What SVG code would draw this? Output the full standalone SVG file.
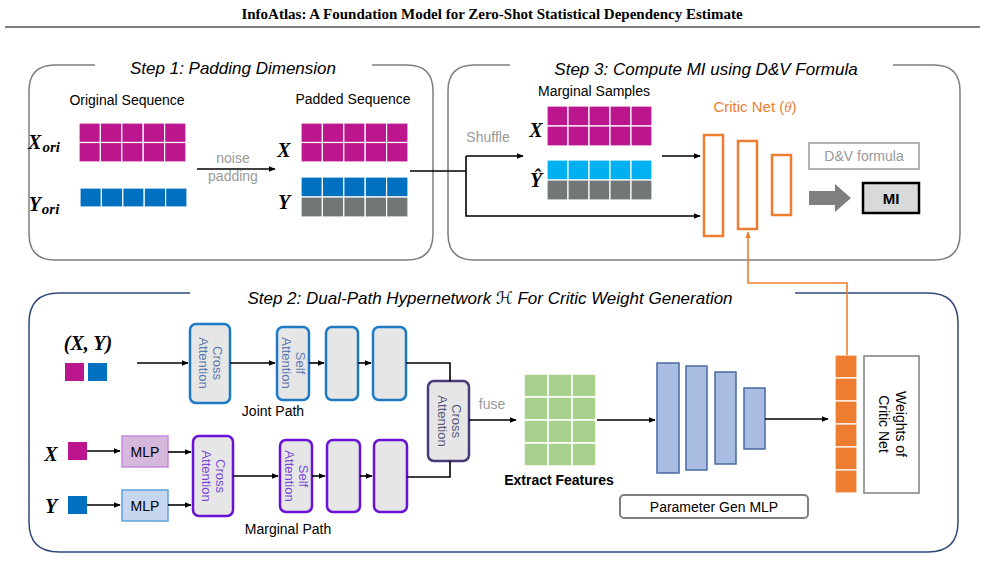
<svg xmlns="http://www.w3.org/2000/svg" width="985" height="586" viewBox="0 0 985 586">
<defs>
<marker id="ah" viewBox="0 0 10 10" refX="9" refY="5" markerWidth="7" markerHeight="7" orient="auto-start-reverse" markerUnits="userSpaceOnUse"><path d="M0,1 L10,5 L0,9 z" fill="#000"/></marker>
<marker id="ao" viewBox="0 0 10 10" refX="9" refY="5" markerWidth="7" markerHeight="7" orient="auto" markerUnits="userSpaceOnUse"><path d="M0,1 L10,5 L0,9 z" fill="#ed7d31"/></marker>
</defs>
<style>
text{font-family:"Liberation Sans",Arial,sans-serif;}
.frame{fill:none;stroke:#7f7f7f;stroke-width:1.5;}
.step{font-style:italic;font-size:17px;text-anchor:middle;fill:#000;}
.lbl{font-size:14px;text-anchor:middle;fill:#000;}
.gray{font-size:14px;text-anchor:middle;fill:#999;}
.math{font-family:"Liberation Serif","Times New Roman",serif;font-style:italic;font-weight:bold;font-size:20px;text-anchor:middle;}
.ln{fill:none;stroke:#000;stroke-width:1.6;}
.m{fill:#bb168e;stroke:#fff;stroke-width:1.2;}
.b{fill:#0070c0;stroke:#fff;stroke-width:1.2;}
.c{fill:#00b0f0;stroke:#fff;stroke-width:1.2;}
.g{fill:#717677;stroke:#fff;stroke-width:1.2;}
.gr{fill:#a9d18e;stroke:#fff;stroke-width:1.5;}
.jb{fill:#e6e6e6;stroke:#1f7ac6;stroke-width:2.5;}
.pb{fill:#e6e6e6;stroke:#6a12d6;stroke-width:2.5;}
.att{font-size:13px;text-anchor:middle;}
.crit{fill:#fff;stroke:#ed7d31;stroke-width:2.5;}
.pg{fill:#a9bde3;stroke:#4a6aa0;stroke-width:1.5;}
.o{fill:#ed7d31;stroke:#fff;stroke-width:1.2;}
.title{font-family:"Liberation Serif","Times New Roman",serif;font-weight:bold;font-size:15px;text-anchor:middle;}
</style>
<text class="title" x="492" y="19">InfoAtlas: A Foundation Model for Zero-Shot Statistical Dependency Estimate</text>
<line x1="5" y1="27" x2="980" y2="27" stroke="#000" stroke-width="1.2"/>

<g id="step1">
<path class="frame" d="M95,65 H55 Q29,65 29,91 V234 Q29,260 55,260 H407 Q433,260 433,234 V91 Q433,65 407,65 H372"/>
<text class="step" x="233" y="74">Step 1: Padding Dimension</text>
<text class="lbl" x="127" y="105">Original Sequence</text>
<text class="lbl" x="353" y="104">Padded Sequence</text>
<text class="math" x="44" y="149">X<tspan font-size="15" dx="1" dy="3">ori</tspan></text>
<text class="math" x="44" y="211">Y<tspan font-size="15" dx="1" dy="3">ori</tspan></text>
<g id="xori">
<rect class="m" x="79" y="123" width="21.4" height="19.5"/><rect class="m" x="100.4" y="123" width="21.4" height="19.5"/><rect class="m" x="121.8" y="123" width="21.4" height="19.5"/><rect class="m" x="143.2" y="123" width="21.4" height="19.5"/><rect class="m" x="164.6" y="123" width="21.4" height="19.5"/>
<rect class="m" x="79" y="142.5" width="21.4" height="19.5"/><rect class="m" x="100.4" y="142.5" width="21.4" height="19.5"/><rect class="m" x="121.8" y="142.5" width="21.4" height="19.5"/><rect class="m" x="143.2" y="142.5" width="21.4" height="19.5"/><rect class="m" x="164.6" y="142.5" width="21.4" height="19.5"/>
</g>
<g id="yori">
<rect class="b" x="80" y="188" width="21.4" height="19"/><rect class="b" x="101.4" y="188" width="21.4" height="19"/><rect class="b" x="122.8" y="188" width="21.4" height="19"/><rect class="b" x="144.2" y="188" width="21.4" height="19"/><rect class="b" x="165.6" y="188" width="21.4" height="19"/>
</g>
<text class="gray" x="233" y="163">noise</text>
<text class="gray" x="233" y="181">padding</text>
<text class="math" x="284" y="157">X</text>
<text class="math" x="284" y="209">Y</text>
<g id="xpad">
<rect class="m" x="301" y="123" width="21.4" height="19.5"/><rect class="m" x="322.4" y="123" width="21.4" height="19.5"/><rect class="m" x="343.8" y="123" width="21.4" height="19.5"/><rect class="m" x="365.2" y="123" width="21.4" height="19.5"/><rect class="m" x="386.6" y="123" width="21.4" height="19.5"/>
<rect class="m" x="301" y="142.5" width="21.4" height="19.5"/><rect class="m" x="322.4" y="142.5" width="21.4" height="19.5"/><rect class="m" x="343.8" y="142.5" width="21.4" height="19.5"/><rect class="m" x="365.2" y="142.5" width="21.4" height="19.5"/><rect class="m" x="386.6" y="142.5" width="21.4" height="19.5"/>
</g>
<g id="ypad">
<rect class="b" x="301" y="177" width="21.4" height="20"/><rect class="b" x="322.4" y="177" width="21.4" height="20"/><rect class="b" x="343.8" y="177" width="21.4" height="20"/><rect class="b" x="365.2" y="177" width="21.4" height="20"/><rect class="b" x="386.6" y="177" width="21.4" height="20"/>
<rect class="g" x="301" y="197" width="21.4" height="20"/><rect class="g" x="322.4" y="197" width="21.4" height="20"/><rect class="g" x="343.8" y="197" width="21.4" height="20"/><rect class="g" x="365.2" y="197" width="21.4" height="20"/><rect class="g" x="386.6" y="197" width="21.4" height="20"/>
</g>
</g>

<g id="step3">
<path class="frame" d="M510,65 H474 Q448,65 448,91 V234 Q448,260 474,260 H934 Q960,260 960,234 V91 Q960,65 934,65 H893"/>
<text class="step" x="706" y="75">Step 3: Compute MI using D&amp;V Formula</text>
<text class="lbl" x="594" y="96">Marginal Samples</text>
<text class="gray" x="488" y="142">Shuffle</text>
<text class="math" x="536" y="137">X</text>
<text class="math" x="536" y="187">Ŷ</text>
<g id="xmarg">
<rect class="m" x="547" y="106" width="21" height="20"/><rect class="m" x="568" y="106" width="21" height="20"/><rect class="m" x="589" y="106" width="21" height="20"/><rect class="m" x="610" y="106" width="21" height="20"/><rect class="m" x="631" y="106" width="21" height="20"/>
<rect class="m" x="547" y="126" width="21" height="20"/><rect class="m" x="568" y="126" width="21" height="20"/><rect class="m" x="589" y="126" width="21" height="20"/><rect class="m" x="610" y="126" width="21" height="20"/><rect class="m" x="631" y="126" width="21" height="20"/>
</g>
<g id="yhat">
<rect class="c" x="547" y="160" width="21" height="20"/><rect class="c" x="568" y="160" width="21" height="20"/><rect class="c" x="589" y="160" width="21" height="20"/><rect class="c" x="610" y="160" width="21" height="20"/><rect class="c" x="631" y="160" width="21" height="20"/>
<rect class="g" x="547" y="180" width="21" height="20"/><rect class="g" x="568" y="180" width="21" height="20"/><rect class="g" x="589" y="180" width="21" height="20"/><rect class="g" x="610" y="180" width="21" height="20"/><rect class="g" x="631" y="180" width="21" height="20"/>
</g>
<g id="critic">
<text x="755" y="112" font-size="15" fill="#ed7d31" text-anchor="middle">Critic Net (<tspan style="font-family:'Liberation Serif',serif;font-style:italic">θ</tspan>)</text>
<rect class="crit" x="704" y="135" width="19" height="101"/>
<rect class="crit" x="738" y="141" width="19" height="88"/>
<rect class="crit" x="772" y="155" width="19" height="60"/>
</g>
<g id="dv">
<rect x="809" y="143" width="110" height="26" fill="#fff" stroke="#999" stroke-width="1.5"/>
<text class="gray" x="864" y="161">D&amp;V formula</text>
<path d="M809,191 H835 V184 L851,198 L835,212 V205 H809 Z" fill="#7f7f7f"/>
</g>
<g id="mi">
<rect x="863" y="183" width="56" height="30" fill="#d9d9d9" stroke="#000" stroke-width="2.5"/>
<text x="891" y="204" font-size="15" font-weight="bold" text-anchor="middle">MI</text>
</g>
</g>

<g id="step2">
<path d="M190,293 H59 Q29,293 29,323 V522 Q29,552 59,552 H928 Q958,552 958,522 V323 Q958,293 928,293 H795" fill="none" stroke="#2f4a7a" stroke-width="1.5"/>
<text class="step" x="490" y="304">Step 2: Dual-Path Hypernetwork <tspan style="font-family:'DejaVu Sans',sans-serif;font-style:normal">ℋ</tspan> For Critic Weight Generation</text>
<text class="math" x="88" y="350">(X, Y)</text>
<rect x="65" y="363" width="19" height="18" fill="#bb168e"/>
<rect x="88" y="363" width="19" height="18" fill="#0070c0"/>
<g id="joint-cross"><rect class="jb" x="190" y="324" width="40" height="79" rx="6"/><text class="att" fill="#5a7ab0" transform="translate(210,363) rotate(90)"><tspan x="0" y="-3">Cross</tspan><tspan x="0" y="11">Attention</tspan></text></g>
<g id="joint-self"><rect class="jb" x="277" y="327" width="32" height="73" rx="6"/><text class="att" fill="#5a7ab0" transform="translate(293,363) rotate(90)"><tspan x="0" y="-3">Self</tspan><tspan x="0" y="11">Attention</tspan></text></g>
<g id="joint-b3"><rect class="jb" x="326" y="327" width="32" height="73" rx="6"/></g>
<g id="joint-b4"><rect class="jb" x="373" y="327" width="33" height="73" rx="6"/></g>
<text class="lbl" x="273" y="416">Joint Path</text>
<g id="fuse-cross"><rect x="428" y="381" width="41" height="80" rx="6" fill="#e6e6e6" stroke="#4b3a7a" stroke-width="2.5"/><text class="att" fill="#5a5a80" transform="translate(448.5,421) rotate(90)"><tspan x="0" y="-3">Cross</tspan><tspan x="0" y="11">Attention</tspan></text></g>
<text class="math" x="51" y="461">X</text>
<rect x="68" y="442" width="19" height="18" fill="#bb168e"/>
<text class="math" x="51" y="513">Y</text>
<rect x="68" y="496" width="19" height="18" fill="#0070c0"/>
<g id="mlp-x"><rect x="122" y="436" width="46" height="31" fill="#d5b8dc" stroke="#c58be0" stroke-width="1.5"/><text class="lbl" x="145" y="457">MLP</text></g>
<g id="mlp-y"><rect x="122" y="490" width="46" height="31" fill="#c6d6ee" stroke="#5fa3dd" stroke-width="1.5"/><text class="lbl" x="145" y="511">MLP</text></g>
<g id="marg-cross"><rect class="pb" x="193" y="436" width="40" height="80" rx="6"/><text class="att" fill="#7a4ad6" transform="translate(213,476) rotate(90)"><tspan x="0" y="-3">Cross</tspan><tspan x="0" y="11">Attention</tspan></text></g>
<g id="marg-self"><rect class="pb" x="280" y="440" width="32" height="72" rx="6"/><text class="att" fill="#7a4ad6" transform="translate(296,476) rotate(90)"><tspan x="0" y="-3">Self</tspan><tspan x="0" y="11">Attention</tspan></text></g>
<g id="marg-b3"><rect class="pb" x="327" y="440" width="33" height="72" rx="6"/></g>
<g id="marg-b4"><rect class="pb" x="374" y="440" width="33" height="72" rx="6"/></g>
<text class="lbl" x="288" y="534">Marginal Path</text>
<text class="gray" x="492" y="409">fuse</text>
<g id="features">
<rect class="gr" x="524" y="374" width="24" height="23"/><rect class="gr" x="548" y="374" width="24" height="23"/><rect class="gr" x="572" y="374" width="24" height="23"/>
<rect class="gr" x="524" y="397" width="24" height="23"/><rect class="gr" x="548" y="397" width="24" height="23"/><rect class="gr" x="572" y="397" width="24" height="23"/>
<rect class="gr" x="524" y="420" width="24" height="23"/><rect class="gr" x="548" y="420" width="24" height="23"/><rect class="gr" x="572" y="420" width="24" height="23"/>
<rect class="gr" x="524" y="443" width="24" height="23"/><rect class="gr" x="548" y="443" width="24" height="23"/><rect class="gr" x="572" y="443" width="24" height="23"/>
<text x="559" y="485" font-size="14" font-weight="bold" text-anchor="middle">Extract Features</text>
</g>
<g id="paramgen">
<rect class="pg" x="657" y="363" width="22" height="110"/>
<rect class="pg" x="686" y="366" width="21" height="104"/>
<rect class="pg" x="715" y="372" width="21" height="92"/>
<rect class="pg" x="744" y="388" width="21" height="61"/>
<rect x="620" y="495" width="188" height="23" rx="4" fill="#fff" stroke="#7f7f7f" stroke-width="2"/>
<text class="lbl" x="714" y="512">Parameter Gen MLP</text>
</g>
<g id="weights">
<rect class="o" x="835" y="355" width="22" height="23"/><rect class="o" x="835" y="378" width="22" height="23"/><rect class="o" x="835" y="401" width="22" height="23"/><rect class="o" x="835" y="424" width="22" height="23"/><rect class="o" x="835" y="447" width="22" height="23"/><rect class="o" x="835" y="470" width="22" height="23"/>
<rect x="864" y="356" width="55" height="137" fill="#fff" stroke="#7f7f7f" stroke-width="1.5"/>
<text class="lbl" transform="translate(891.5,424) rotate(90)"><tspan x="0" y="-4">Weights of</tspan><tspan x="0" y="13">Critic Net</tspan></text>
</g>
</g>

<g id="connectors">
<line class="ln" x1="197" y1="169" x2="275" y2="169" marker-end="url(#ah)"/>
<polyline class="ln" points="410,171 466,171"/>
<polyline class="ln" points="466,156 466,216 700,216" marker-end="url(#ah)"/>
<line class="ln" x1="466" y1="156" x2="523" y2="156" marker-end="url(#ah)"/>
<line class="ln" x1="662" y1="156" x2="700" y2="156" marker-end="url(#ah)"/>
<polyline points="847,355 847,283 748,283 748,232" fill="none" stroke="#ed7d31" stroke-width="1.6" marker-end="url(#ao)"/>
<line class="ln" x1="137" y1="363" x2="188" y2="363" marker-end="url(#ah)"/>
<line class="ln" x1="230" y1="363" x2="275" y2="363" marker-end="url(#ah)"/>
<line class="ln" x1="309" y1="363" x2="324" y2="363" marker-end="url(#ah)"/>
<line class="ln" x1="358" y1="363" x2="371" y2="363" marker-end="url(#ah)"/>
<polyline class="ln" points="406,363 450,363 450,381"/>
<line class="ln" x1="87" y1="451" x2="120" y2="451" marker-end="url(#ah)"/>
<line class="ln" x1="87" y1="505" x2="120" y2="505" marker-end="url(#ah)"/>
<line class="ln" x1="168" y1="452" x2="191" y2="452" marker-end="url(#ah)"/>
<line class="ln" x1="168" y1="505" x2="191" y2="505" marker-end="url(#ah)"/>
<line class="ln" x1="233" y1="476" x2="278" y2="476" marker-end="url(#ah)"/>
<line class="ln" x1="312" y1="476" x2="325" y2="476" marker-end="url(#ah)"/>
<line class="ln" x1="360" y1="476" x2="372" y2="476" marker-end="url(#ah)"/>
<polyline class="ln" points="407,477 450,477 450,461"/>
<line class="ln" x1="469" y1="420" x2="516" y2="420" marker-end="url(#ah)"/>
<line class="ln" x1="597" y1="420" x2="655" y2="420" marker-end="url(#ah)"/>
<line class="ln" x1="765" y1="419" x2="828" y2="419" marker-end="url(#ah)"/>
</g>
</svg>
